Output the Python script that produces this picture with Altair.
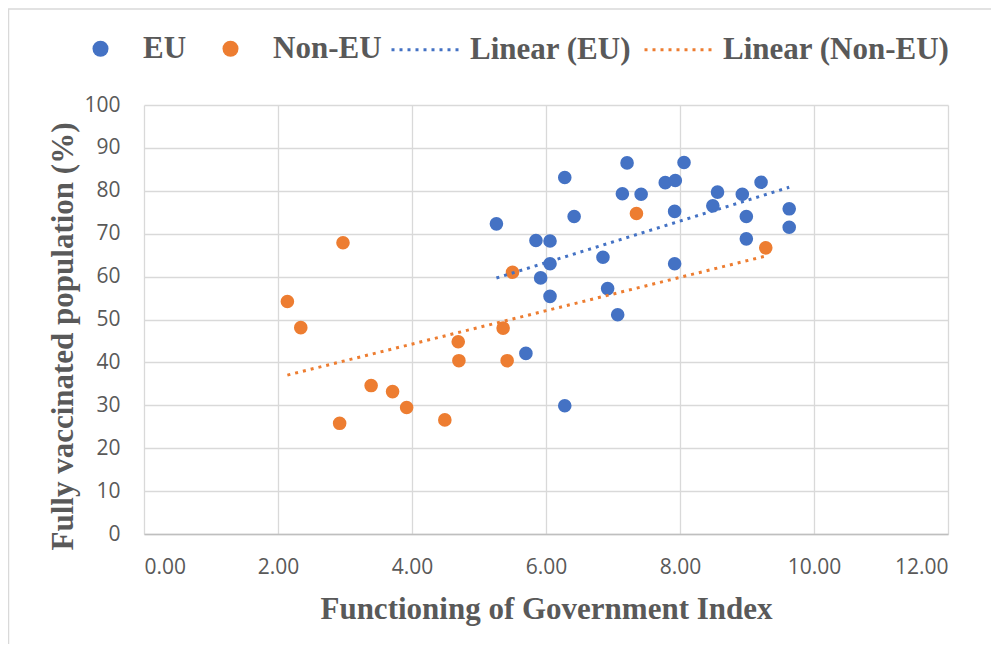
import altair as alt
import pandas as pd

# ---- data ----
eu_x = [5.26, 5.85, 6.06, 6.06, 5.92, 6.06, 6.28, 6.42, 5.70, 6.28, 6.85, 6.92, 7.07, 7.21, 7.14,
        7.42, 7.78, 7.93, 8.06, 7.92, 7.92, 8.56, 8.49, 8.93, 9.21, 8.99, 8.99, 9.63, 9.63]
eu_y = [72.3, 68.4, 68.3, 63.0, 59.7, 55.4, 83.1, 74.0, 42.1, 29.9, 64.5, 57.2, 51.1, 86.5, 79.3,
        79.2, 81.9, 82.4, 86.6, 75.2, 63.0, 79.7, 76.5, 79.2, 82.0, 74.0, 68.8, 75.8, 71.5]
non_x = [2.97, 2.14, 2.34, 4.69, 4.70, 5.36, 5.42, 3.39, 3.71, 3.92, 2.92, 4.49, 5.50, 7.35, 9.28]
non_y = [67.9, 54.2, 48.1, 44.8, 40.4, 48.0, 40.4, 34.6, 33.2, 29.5, 25.8, 26.6, 61.0, 74.7, 66.7]

series_names = ["EU", "Non-EU"]
trend_names = ["Linear (EU)", "Linear (Non-EU)"]
x_ticks = [0, 2, 4, 6, 8, 10, 12]
y_ticks = [0, 10, 20, 30, 40, 50, 60, 70, 80, 90, 100]
x_title = "Functioning of Government Index"
y_title = "Fully vaccinated population (%)"

BLUE = "#4472C4"
ORANGE = "#ED7D31"
GRAY_TEXT = "#595959"
GRID = "#D9D9D9"

df = pd.DataFrame({
    "x": eu_x + non_x,
    "y": eu_y + non_y,
    "series": ["EU"] * len(eu_x) + ["Non-EU"] * len(non_x),
})

x_enc = alt.X(
    "x:Q",
    scale=alt.Scale(domain=[0, 12], nice=False, zero=False),
    axis=alt.Axis(
        values=x_ticks, format=".2f", title=x_title,
        grid=True, gridColor=GRID, gridWidth=1.3,
        domain=True, domainColor="#BFBFBF", domainWidth=1.3,
        ticks=False, tickSize=0,
        labelFont="Open Sans", labelFontSize=21, labelColor=GRAY_TEXT,
        labelPadding=39, labelBaseline="alphabetic",
        titleFont="Liberation Serif", titleFontSize=31, titleFontWeight="bold",
        titleColor=GRAY_TEXT, titleY=84, titleBaseline="alphabetic",
    ),
)
y_enc = alt.Y(
    "y:Q",
    scale=alt.Scale(domain=[0, 100], nice=False),
    axis=alt.Axis(
        values=y_ticks, title=y_title,
        grid=True, gridColor=GRID, gridWidth=1.3,
        domain=False, ticks=False, tickSize=0,
        labelFont="Open Sans", labelFontSize=21, labelColor=GRAY_TEXT,
        labelPadding=24,
        titleFont="Liberation Serif", titleFontSize=31, titleFontWeight="bold",
        titleColor=GRAY_TEXT, titleAngle=270, titleX=-72, titleY=231,
        titleBaseline="alphabetic", titleAlign="center",
    ),
)

frame = alt.Chart(pd.DataFrame({"a": [0]})).mark_rect(
    fillOpacity=0, stroke=GRID, strokeWidth=1.5
).encode(
    x=alt.value(-135.5), x2=alt.value(900), y=alt.value(-96), y2=alt.value(700)
)

points = alt.Chart(df).mark_point(filled=True, size=185, opacity=1).encode(
    x=x_enc,
    y=y_enc,
    color=alt.Color(
        "series:N",
        scale=alt.Scale(domain=series_names, range=[BLUE, ORANGE]),
        legend=alt.Legend(
            orient="none", direction="horizontal", legendX=-59, legendY=-72,
            title=None, symbolType="circle", symbolSize=256, symbolStrokeWidth=0,
            labelFont="Liberation Serif", labelFontSize=31, labelFontWeight="bold",
            labelColor=GRAY_TEXT, labelOffset=27, columnPadding=28, padding=0,
            labelLimit=0,
        ),
    ),
)

lines = alt.Chart(df).transform_regression(
    "x", "y", groupby=["series"]
).transform_calculate(
    trend='"Linear (" + datum.series + ")"'
).mark_line(strokeWidth=3, strokeDash=[3, 5]).encode(
    x="x:Q",
    y="y:Q",
    stroke=alt.Stroke(
        "trend:N",
        scale=alt.Scale(domain=trend_names, range=[BLUE, ORANGE]),
        legend=alt.Legend(
            orient="none", direction="horizontal", legendX=246, legendY=-92,
            title=None, symbolType="stroke", symbolSize=4900, symbolStrokeWidth=3,
            symbolDash=[3, 5],
            labelFont="Liberation Serif", labelFontSize=31, labelFontWeight="bold",
            labelColor=GRAY_TEXT, labelOffset=7, columnPadding=6, padding=0,
            labelLimit=0,
        ),
    ),
)

chart = alt.layer(frame, points, lines).properties(
    width=804,
    height=429,
    autosize=alt.AutoSizeParams(type="none"),
    padding={"left": 136, "top": 97, "right": 43, "bottom": 110},
    background="white",
).configure_view(strokeWidth=0)

chart.save("out.html", embed_options={"renderer": "svg", "actions": False})
